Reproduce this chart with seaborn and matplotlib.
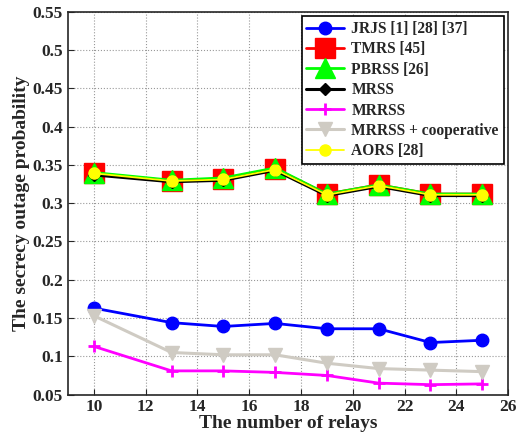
import pandas as pd
import matplotlib.pyplot as plt
import seaborn as sns

relays = [10, 13, 15, 17, 19, 21, 23, 25]

jrjs = [0.163, 0.144, 0.139, 0.143, 0.136, 0.136, 0.118, 0.121]
tmrs = [0.339, 0.329, 0.332, 0.345, 0.312, 0.324, 0.312, 0.312]
pbrss = [0.340, 0.330, 0.333, 0.346, 0.312, 0.324, 0.312, 0.312]
mrss = [0.337, 0.328, 0.330, 0.343, 0.310, 0.322, 0.310, 0.310]
mrrss = [0.113, 0.081, 0.081, 0.079, 0.075, 0.065, 0.063, 0.064]
mrrss_coop = [0.153, 0.105, 0.102, 0.102, 0.091, 0.084, 0.082, 0.080]
aors = [0.339, 0.329, 0.331, 0.344, 0.311, 0.323, 0.311, 0.311]

series = [
    ("JRJS [1] [28] [37]", jrjs, "#0000ff", "o", 9, 2.0),
    ("TMRS [45]", tmrs, "#ff0000", "s", 14, 2.0),
    ("PBRSS [26]", pbrss, "#00ff00", "^", 14, 2.0),
    ("MRSS", mrss, "#000000", "D", 6, 2.2),
    ("MRRSS", mrrss, "#ff00ff", "+", 9, 2.0),
    ("MRRSS + cooperative", mrrss_coop, "#cfcbc3", "v", 10, 2.2),
    ("AORS [28]", aors, "#ffff00", "o", 8, 1.3),
]


def main():
    sns.set_style("ticks")
    plt.rcParams['font.family'] = ['Liberation Serif', 'DejaVu Serif']
    plt.rcParams['font.weight'] = 'bold'

    fig, ax = plt.subplots(figsize=(5.31, 4.37), dpi=100)
    for name, vals, color, marker, ms, lw in series:
        df = pd.DataFrame({'relays': relays, 'p': vals})
        sns.lineplot(data=df, x='relays', y='p', ax=ax, color=color, marker=marker,
                     markersize=ms, markeredgecolor=color,
                     markeredgewidth=2 if marker == '+' else 1,
                     linewidth=lw, label=name)

    ax.set_xlim(9, 26)
    ax.set_ylim(0.05, 0.55)
    ax.set_xticks(range(10, 27, 2))
    ax.set_yticks([0.05 + 0.05 * i for i in range(11)])
    ax.set_yticklabels(['0.05', '0.1', '0.15', '0.2', '0.25', '0.3', '0.35', '0.4', '0.45', '0.5', '0.55'])
    ax.grid(True, linestyle=':', color='#999999', linewidth=0.8)
    ax.tick_params(labelsize=12.5, direction='in', length=4)
    for lab in ax.get_xticklabels() + ax.get_yticklabels():
        lab.set_fontweight('bold')
    for sp in ax.spines.values():
        sp.set_linewidth(1.2)
    ax.set_xlabel('The number of relays', fontsize=14, fontweight='bold', labelpad=0)
    ax.set_ylabel('The secrecy outage probability', fontsize=14, fontweight='bold', labelpad=2)

    leg = ax.legend(loc='upper right', frameon=True, fancybox=False,
                    edgecolor='black', framealpha=1, borderaxespad=0.3,
                    handlelength=2.4, handletextpad=0.5, labelspacing=0.28, borderpad=0.3,
                    prop={'weight': 'bold', 'size': 11.2})
    leg.get_frame().set_linewidth(1.2)

    fig.subplots_adjust(left=0.128, right=0.957, top=0.973, bottom=0.097)
    plt.savefig('out.png', dpi=100)


if __name__ == "__main__":
    main()
